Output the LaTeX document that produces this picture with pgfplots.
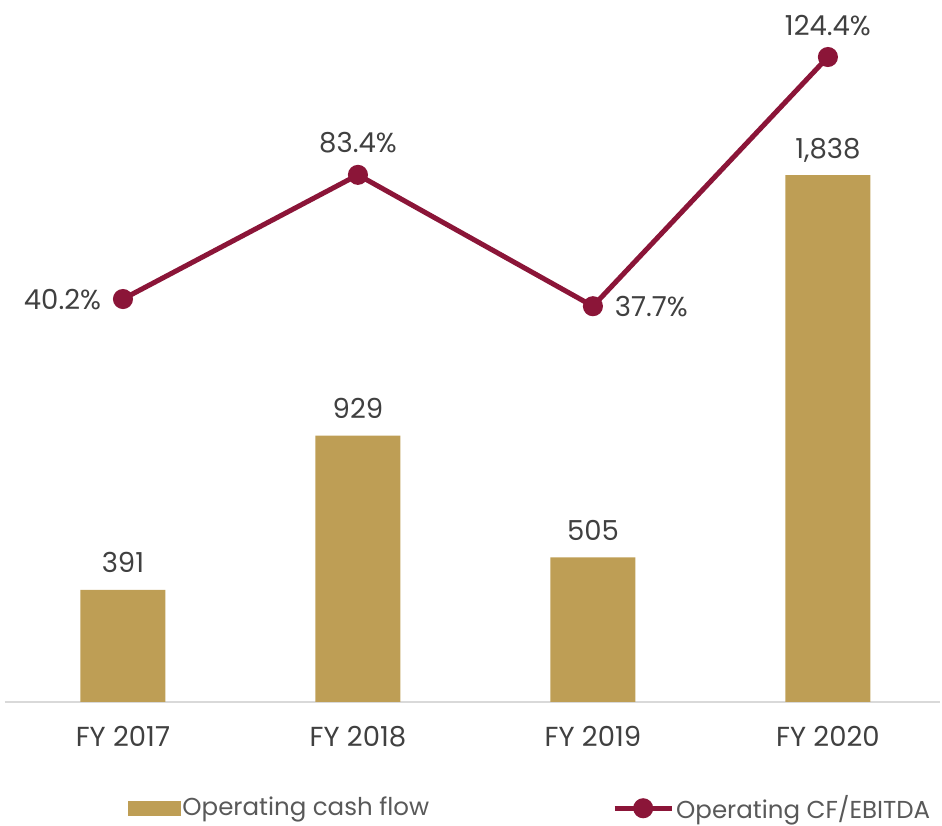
\documentclass[border=0pt]{standalone}
\usepackage{pgfplots}
\pgfplotsset{compat=1.18}
\usepackage{fontspec}
\setmainfont{Poppins}
\definecolor{gold}{HTML}{BE9E55}
\definecolor{wine}{HTML}{8B1538}
\definecolor{txt}{HTML}{404040}
\definecolor{legtxt}{HTML}{595959}
\newcommand\lab{\fontsize{27.5}{32}\selectfont}
\newcommand\leg{\fontsize{24.5}{28}\selectfont}

\pgfplotstableread{
x y
0 391
1 929
2 505
3 1838
}\cashflow

\pgfplotstableread{
x y
0 40.2
1 83.4
2 37.7
3 124.4
}\ratio

\begin{document}
\begin{tikzpicture}[x=1pt,y=1pt]
\useasboundingbox (0,0) rectangle (942,826);
\pgfplotsset{common/.style={
  at={(5pt,124pt)}, anchor=south west, scale only axis,
  width=935pt, height=697pt,
  xmin=-0.502, xmax=3.477, enlargelimits=false, clip=false,
  /pgf/number format/assume math mode=true,
},
pctlab/.style={draw=none, mark=none, forget plot, point meta=y,
  nodes near coords={\pgfmathprintnumber[fixed,fixed zerofill,precision=1]{\pgfplotspointmeta}\%},
  every node near coord/.append style={font=\lab, text=txt, anchor=#1, inner sep=0pt, outer sep=22pt, text depth=0pt}},
}
\begin{axis}[common,
  ymin=0, ymax=2432,
  hide y axis, axis x line*=bottom,
  x axis line style={draw=black!15, line width=1.5pt},
  xtick={0,1,2,3}, xticklabels={FY 2017,FY 2018,FY 2019,FY 2020},
  major tick length=0pt,
  xticklabel style={font=\lab, text=txt, anchor=base, yshift=-45pt},
  ybar, bar width=85pt,
]
\addplot[fill=gold, draw=none,
  nodes near coords={\pgfmathprintnumber[1000 sep={,}]{\pgfplotspointmeta}},
  every node near coord/.append style={font=\lab, text=txt, anchor=south, inner sep=0pt, outer sep=17pt, text depth=0pt},
] table[x=x, y=y] {\cashflow};
\end{axis}
\begin{axis}[common,
  ymin=-100, ymax=142.5,
  hide axis,
  legend columns=2,
  legend cell align=left,
  legend style={draw=none, fill=none, inner sep=0pt, outer sep=0pt,
    at={(0.1316,-0.151)}, anchor=west, font=\leg, text=legtxt,
    nodes={inner sep=2pt},
    /tikz/every even column/.append style={column sep=181pt}},
]
\addlegendimage{legend image code/.code={\fill[gold] (0pt,-8pt) rectangle (52pt,6pt);}}
\addlegendentry{Operating cash flow}
\addplot[wine, line width=5pt, mark=*, mark size=7.5pt,
  mark options={solid},
  legend image code/.code={\draw[wine, line width=5pt] (0pt,-1pt) -- (57pt,-1pt); \fill[wine] (28.5pt,-1pt) circle (7.5pt);},
] table[x=x, y=y] {\ratio};
\addlegendentry{Operating CF/EBITDA}
\addplot[pctlab=east] coordinates {(0,40.2)};
\addplot[pctlab=south] coordinates {(1,83.4) (3,124.4)};
\addplot[pctlab=west] coordinates {(2,37.7)};
\end{axis}
\end{tikzpicture}
\end{document}
